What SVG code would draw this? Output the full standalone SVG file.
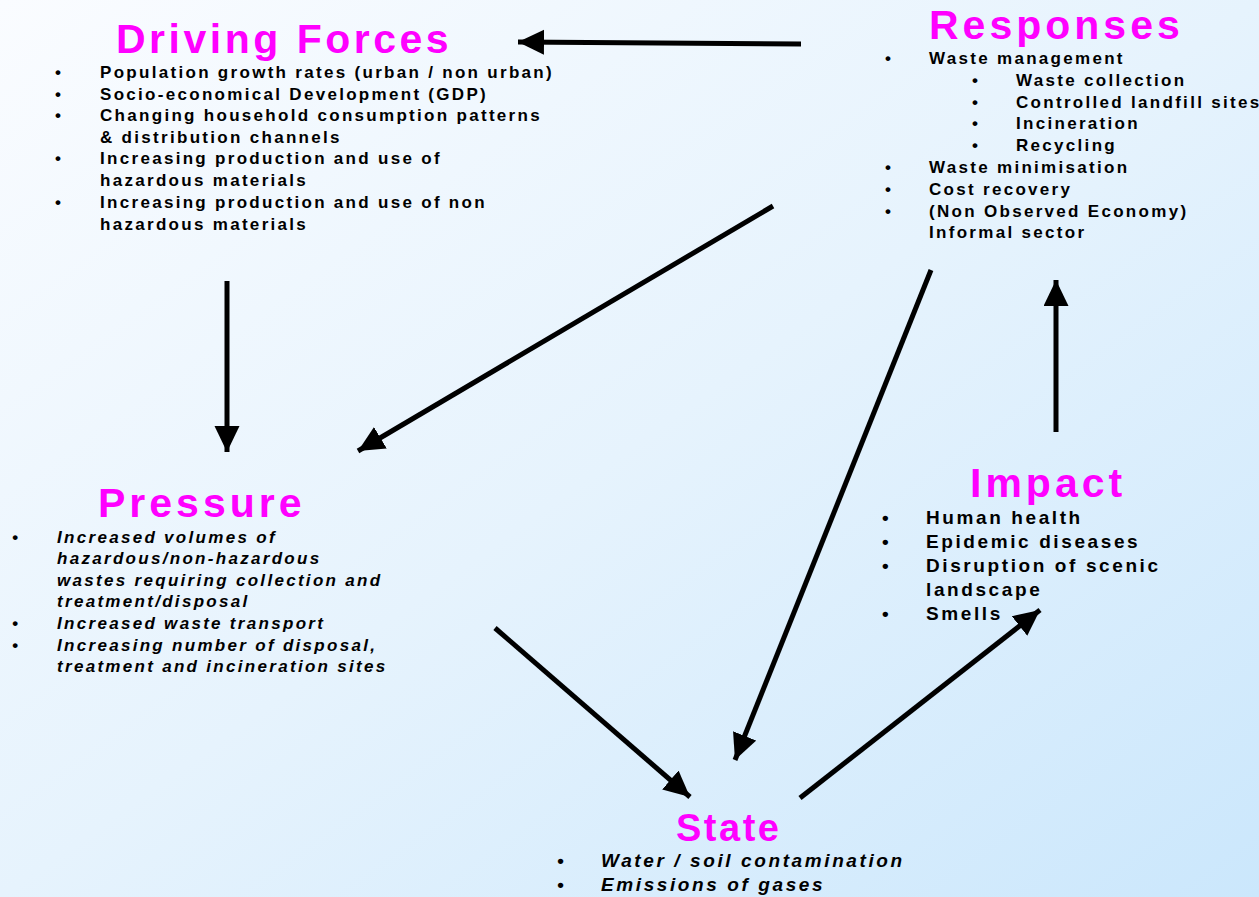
<svg xmlns="http://www.w3.org/2000/svg" width="1259" height="897" viewBox="0 0 1259 897">
<defs>
<linearGradient id="bg" x1="0" y1="0" x2="1" y2="1">
<stop offset="0" stop-color="#fafcff"/>
<stop offset="0.5" stop-color="#e6f3fd"/>
<stop offset="1" stop-color="#cbe7fc"/>
</linearGradient>
<marker id="ah" markerUnits="userSpaceOnUse" markerWidth="28" markerHeight="26" refX="26" refY="12.5" orient="auto">
<path d="M0,0 L26,12.5 L0,25 z" fill="#000"/>
</marker>
<style>
.t{font-family:"Liberation Sans",Arial,sans-serif;font-weight:bold;fill:#ff00ff;font-size:41px;letter-spacing:4px}
.b{font-family:"Liberation Sans",Arial,sans-serif;font-weight:bold;fill:#000;font-size:17px;letter-spacing:2.3px}
.i{font-style:italic}
.l{font-size:19px;letter-spacing:2.6px}
.c{stroke:#000;stroke-width:5;fill:none;marker-end:url(#ah)}
</style>
</defs>
<rect width="1259" height="897" fill="url(#bg)"/>
<g id="driving-forces">
<text class="t" x="116" y="53" style="letter-spacing:3.5px">Driving Forces</text>
<g class="b">
<text x="55" y="78">•</text><text x="100" y="78">Population growth rates (urban / non urban)</text>
<text x="55" y="100">•</text><text x="100" y="100">Socio-economical Development (GDP)</text>
<text x="55" y="121">•</text><text x="100" y="121">Changing household consumption patterns</text>
<text x="100" y="143">&amp; distribution channels</text>
<text x="55" y="164">•</text><text x="100" y="164">Increasing production and use of</text>
<text x="100" y="186">hazardous materials</text>
<text x="55" y="208">•</text><text x="100" y="208">Increasing production and use of non</text>
<text x="100" y="230">hazardous materials</text>
</g>
</g>
<g id="responses">
<text class="t" x="929" y="39">Responses</text>
<g class="b">
<text x="885" y="64">•</text><text x="929" y="64">Waste management</text>
<text x="972" y="86">•</text><text x="1016" y="86">Waste collection</text>
<text x="972" y="108">•</text><text x="1016" y="108">Controlled landfill sites</text>
<text x="972" y="129">•</text><text x="1016" y="129">Incineration</text>
<text x="972" y="151">•</text><text x="1016" y="151">Recycling</text>
<text x="885" y="173">•</text><text x="929" y="173">Waste minimisation</text>
<text x="885" y="195">•</text><text x="929" y="195">Cost recovery</text>
<text x="885" y="217">•</text><text x="929" y="217">(Non Observed Economy)</text>
<text x="929" y="238">Informal sector</text>
</g>
</g>
<g id="pressure">
<text class="t" x="98" y="517">Pressure</text>
<g class="b i">
<text x="12" y="543">•</text><text x="57" y="543">Increased volumes of</text>
<text x="57" y="564">hazardous/non-hazardous</text>
<text x="57" y="586">wastes requiring collection and</text>
<text x="57" y="607">treatment/disposal</text>
<text x="12" y="629">•</text><text x="57" y="629">Increased waste transport</text>
<text x="12" y="651">•</text><text x="57" y="651">Increasing number of disposal,</text>
<text x="57" y="672">treatment and incineration sites</text>
</g>
</g>
<g id="impact">
<text class="t" x="970" y="497">Impact</text>
<g class="b l">
<text x="882" y="524">•</text><text x="926" y="524">Human health</text>
<text x="882" y="548">•</text><text x="926" y="548">Epidemic diseases</text>
<text x="882" y="572">•</text><text x="926" y="572">Disruption of scenic</text>
<text x="926" y="596">landscape</text>
<text x="882" y="620">•</text><text x="926" y="620">Smells</text>
</g>
</g>
<g id="state">
<text class="t" x="676" y="841" style="font-size:38px;letter-spacing:2.5px">State</text>
<g class="b i l">
<text x="557" y="867">•</text><text x="601" y="867">Water / soil contamination</text>
<text x="557" y="891">•</text><text x="601" y="891">Emissions of gases</text>
</g>
</g>
<g id="connectors">
<line class="c" x1="801" y1="44" x2="518" y2="42"/>
<line class="c" x1="227" y1="281" x2="227" y2="452"/>
<line class="c" x1="773" y1="206" x2="358" y2="451"/>
<line class="c" x1="931" y1="270" x2="735" y2="760"/>
<line class="c" x1="495" y1="628" x2="690" y2="797"/>
<line class="c" x1="800" y1="798" x2="1040" y2="610"/>
<line class="c" x1="1056" y1="432" x2="1056" y2="280"/>
</g>
</svg>
